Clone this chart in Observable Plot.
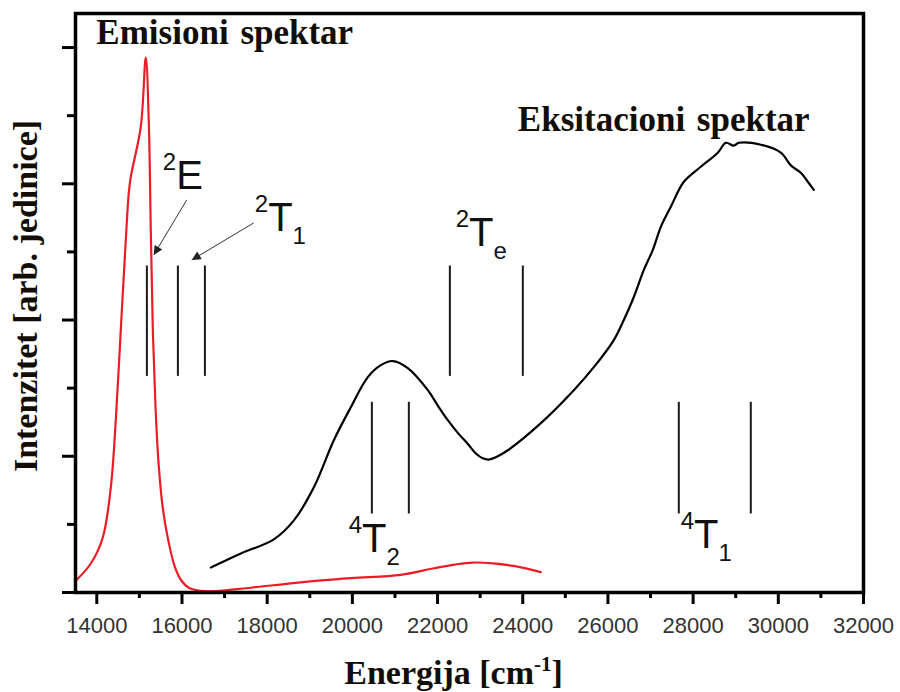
<!DOCTYPE html>
<html>
<head>
<meta charset="utf-8">
<script src="https://cdn.jsdelivr.net/npm/d3@7"></script>
<script src="https://cdn.jsdelivr.net/npm/@observablehq/plot@0.6"></script>
<style>
  html, body { margin: 0; padding: 0; background: #fff; }
  #chart { width: 900px; height: 692px; }
</style>
</head>
<body>
<div id="chart"></div>
<script>
// ---- Emission spectrum (red) ----
const emissionX = [13500, 13860, 14141, 14329, 14446, 14563, 14681, 14751, 14798, 15033, 15150, 15221, 15268, 15314, 15380, 15450, 15549, 15680, 15830, 15980, 16160, 16440, 16800, 17615, 18789, 19962, 21136, 21911, 22400, 22826, 23300, 23788, 24422];
const emissionY = [0.085, 0.213, 0.404, 0.772, 1.265, 1.926, 2.588, 2.934, 3.051, 3.419, 3.926, 3.449, 2.650, 1.950, 1.350, 0.950, 0.620, 0.380, 0.190, 0.090, 0.035, 0.012, 0.010, 0.035, 0.075, 0.105, 0.130, 0.178, 0.205, 0.220, 0.214, 0.195, 0.150];

// ---- Excitation spectrum (black) ----
const excitationX = [16679, 17383, 18157, 18627, 19096, 19565, 19964, 20363, 20669, 20950, 21302, 21772, 22010, 22241, 22480, 22711, 22900, 23060, 23204, 23380, 23650, 24425, 25199, 25669, 26138, 26373, 26608, 26843, 27054, 27242, 27477, 27782, 28181, 28580, 28768, 28955, 29073, 29589, 30059, 30294, 30528, 30692, 30833];
const excitationY = [0.184, 0.287, 0.390, 0.529, 0.772, 1.118, 1.360, 1.581, 1.669, 1.699, 1.647, 1.485, 1.370, 1.265, 1.170, 1.090, 1.020, 0.985, 0.976, 0.995, 1.044, 1.243, 1.485, 1.654, 1.853, 2.000, 2.169, 2.368, 2.515, 2.684, 2.831, 3.015, 3.125, 3.228, 3.301, 3.280, 3.301, 3.287, 3.228, 3.135, 3.081, 3.015, 2.956];

// ---- Level marker lines ----
const levelX  = [15176, 15904, 16538, 22289, 24002, 20458, 21326, 27664, 29354];
const levelY1 = [1.59, 1.59, 1.59, 1.59, 1.59, 0.58, 0.58, 0.58, 0.58];
const levelY2 = [2.40, 2.40, 2.40, 2.40, 2.40, 1.40, 1.40, 1.40, 1.40];

// ---- Level labels ----
const labelX    = [15549, 17709, 22427, 19915, 27709];
const labelY    = [2.963, 2.654, 2.544, 0.294, 0.324];
const labelSup  = ["2", "2", "2", "4", "4"];
const labelMain = ["E", "T", "T", "T", "T"];
const labelSub  = ["", "1", "e", "2", "1"];

// ---- Arrows ----
const arrowX1 = [16113, 17685];
const arrowY1 = [2.882, 2.713];
const arrowX2 = [15338, 16230];
const arrowY2 = [2.478, 2.441];

// ---- Spectrum titles ----
const specTitles = ["Emisioni spektar", "Eksitacioni spektar"];
const specTitleX = [13990, 23885];
const specTitleY = [4.029, 3.384];

// ---- Axes ----
const xTicks = [14000, 16000, 18000, 20000, 22000, 24000, 26000, 28000, 30000, 32000];
const xMinor = [15000, 17000, 19000, 21000, 23000, 25000, 27000, 29000, 31000];
const yMajor = [0, 1, 2, 3, 4];
const yMinor = [0.5, 1.5, 2.5, 3.5];
const xTitle = "Energija [cm-1]";
const yTitle = "Intenzitet [arb. jedinice]";

const emission = emissionX.map((x, i) => ({x, y: emissionY[i]}));
const excitation = excitationX.map((x, i) => ({x, y: excitationY[i]}));
const levels = levelX.map((x, i) => ({x, y1: levelY1[i], y2: levelY2[i]}));
const labels = labelX.map((x, i) => ({x, y: labelY[i], sup: labelSup[i], main: labelMain[i], sub: labelSub[i]}));
const arrows = arrowX1.map((x1, i) => ({x1, y1: arrowY1[i], x2: arrowX2[i], y2: arrowY2[i]}));
const spec = specTitles.map((t, i) => ({t, x: specTitleX[i], y: specTitleY[i]}));

const sans = "'Liberation Sans', Arial, Helvetica, sans-serif";
const serif = "'Liberation Serif', 'Times New Roman', serif";

const svg = Plot.plot({
  width: 900,
  height: 692,
  marginLeft: 75,
  marginRight: 37,
  marginTop: 13,
  marginBottom: 100,
  style: {background: "#fff", fontFamily: sans},
  x: {domain: [13500, 32000]},
  y: {domain: [0, 4.25]},
  marks: [
    Plot.line(emission, {x: "x", y: "y", stroke: "#ec1c24", strokeWidth: 2.2, curve: "catmull-rom"}),
    Plot.line(excitation, {x: "x", y: "y", stroke: "#000", strokeWidth: 2.2, curve: "catmull-rom"}),
    Plot.link(levels, {x1: "x", x2: "x", y1: "y1", y2: "y2", stroke: "#1a1a1a", strokeWidth: 2}),
    Plot.link(arrows, {x1: "x1", y1: "y1", x2: "x2", y2: "y2", stroke: "#333", strokeWidth: 1, className: "arrows"}),
    Plot.text(labels, {x: "x", y: "y", text: d => d.sup + d.main + d.sub, textAnchor: "start", lineAnchor: "bottom",
      fontFamily: sans, fontSize: 40, fill: "#111", className: "lvl-labels"}),
    Plot.text(spec, {x: "x", y: "y", text: "t", textAnchor: "start", lineAnchor: "bottom",
      fontFamily: serif, fontWeight: "bold", fontSize: 35, fill: "#120d06", className: "spec"}),
    Plot.text([xTitle], {frameAnchor: "bottom", dx: -16, dy: 91, lineAnchor: "bottom", textAnchor: "middle",
      fontFamily: serif, fontWeight: "bold", fontSize: 34, fill: "#120d06", className: "xtitle"}),
    Plot.text([yTitle], {frameAnchor: "left", dx: -39, dy: -7, rotate: -90, lineAnchor: "bottom", textAnchor: "middle",
      fontFamily: serif, fontWeight: "bold", fontSize: 34, fill: "#120d06"}),
    Plot.axisX({ticks: xTicks, tickSize: 12, strokeWidth: 3, stroke: "#000", fill: "#333", fontSize: 22,
      tickPadding: 13, tickFormat: d3.format("d"), label: null, fontFamily: sans}),
    Plot.axisX({ticks: xMinor, tickSize: 6, strokeWidth: 3, stroke: "#000", fill: "none", label: null}),
    Plot.axisY({ticks: yMajor, tickSize: 13, strokeWidth: 3, stroke: "#000", fill: "none", label: null}),
    Plot.axisY({ticks: yMinor, tickSize: 8, strokeWidth: 3, stroke: "#000", fill: "none", label: null}),
    Plot.frame({stroke: "#000", strokeWidth: 3.5})
  ]
});
document.getElementById("chart").appendChild(svg);

// ---- rich text helper (superscripts / subscripts) ----
const NS = "http://www.w3.org/2000/svg";
function rich(el, parts) {
  el.textContent = "";
  let prev = 0;
  for (const p of parts) {
    if (!p.t) continue;
    const ts = document.createElementNS(NS, "tspan");
    ts.setAttribute("dy", (prev - p.rise) + "px");
    ts.setAttribute("font-size", p.size + "px");
    ts.textContent = p.t;
    el.appendChild(ts);
    prev = p.rise;
  }
}

d3.select(svg).selectAll("g.lvl-labels text").each(function (_, i) {
  const d = labels[i];
  rich(this, [
    {t: d.sup, size: 24, rise: 19},
    {t: d.main, size: 40, rise: 0},
    {t: d.sub, size: 24, rise: -13}
  ]);
});

d3.select(svg).selectAll("g.spec text").attr("word-spacing", "3px");

d3.select(svg).selectAll("g.xtitle text").each(function () {
  const m = xTitle.match(/^(.*\[cm)(-1)(\])$/);
  rich(this, [
    {t: m[1], size: 34, rise: 0},
    {t: m[2], size: 21, rise: 13},
    {t: m[3], size: 34, rise: 0}
  ]);
});

// filled arrowheads
const defs = d3.select(svg).append("defs");
defs.append("marker")
  .attr("id", "ahead")
  .attr("viewBox", "0 0 10 10")
  .attr("refX", 10).attr("refY", 5)
  .attr("markerWidth", 12).attr("markerHeight", 9)
  .attr("markerUnits", "userSpaceOnUse")
  .attr("orient", "auto")
  .append("path").attr("d", "M0,0L10,5L0,10z").attr("fill", "#222");
d3.select(svg).selectAll("g.arrows path").attr("marker-end", "url(#ahead)");
</script>
</body>
</html>
